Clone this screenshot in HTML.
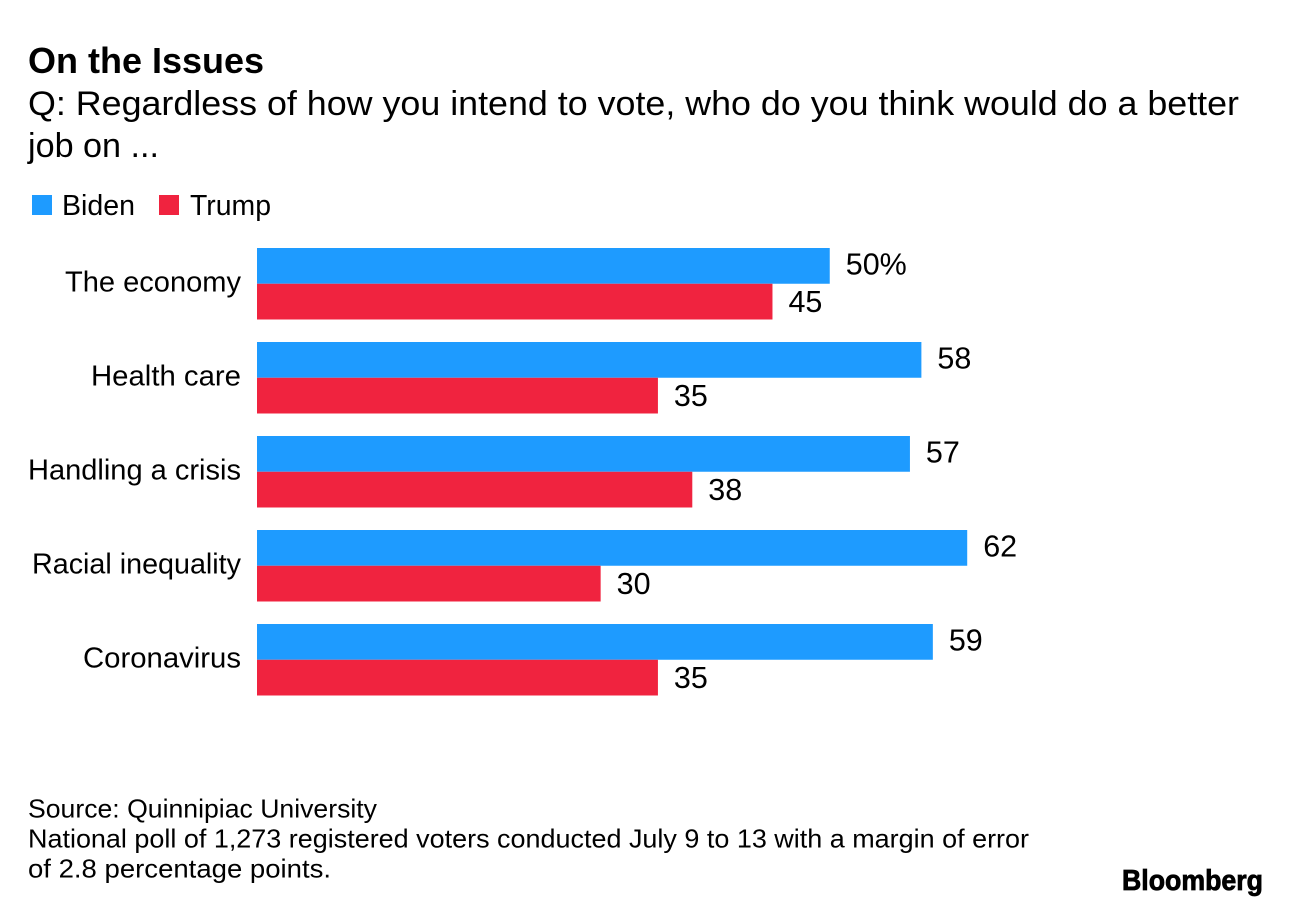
<!DOCTYPE html>
<html lang="en">
<head>
<meta charset="utf-8">
<title>On the Issues</title>
<style>
html,body{margin:0;padding:0;background:#fff;}
svg{display:block;}
text{font-family:"Liberation Sans",sans-serif;fill:#000;}
</style>
</head>
<body>
<svg id="chart" width="1290" height="908" viewBox="0 0 1290 908" xmlns="http://www.w3.org/2000/svg">
  <rect x="0" y="0" width="1290" height="908" fill="#fff"/>
  <text x="28" y="73" font-size="36" font-weight="700" textLength="236" lengthAdjust="spacingAndGlyphs">On the Issues</text>
  <text x="28" y="115" font-size="34" textLength="1211" lengthAdjust="spacingAndGlyphs">Q: Regardless of how you intend to vote, who do you think would do a better</text>
  <text x="28" y="157" font-size="34" textLength="131" lengthAdjust="spacingAndGlyphs">job on ...</text>

  <rect x="32" y="195" width="20" height="20" fill="#1e9bff"/>
  <text x="62" y="215" font-size="29" textLength="73" lengthAdjust="spacingAndGlyphs">Biden</text>
  <rect x="159" y="195" width="20" height="20" fill="#f0233f"/>
  <text x="190" y="215" font-size="29" textLength="81" lengthAdjust="spacingAndGlyphs">Trump</text>

  <g id="plot"></g>

  <text x="28" y="817.5" font-size="26" textLength="349" lengthAdjust="spacingAndGlyphs">Source: Quinnipiac University</text>
  <text x="28" y="847.5" font-size="26" textLength="1001" lengthAdjust="spacingAndGlyphs">National poll of 1,273 registered voters conducted July 9 to 13 with a margin of error</text>
  <text x="28" y="877.5" font-size="26" textLength="303" lengthAdjust="spacingAndGlyphs">of 2.8 percentage points.</text>
  <text x="1122" y="890" font-size="29" font-weight="700" stroke="#000" stroke-width="0.8" textLength="141" lengthAdjust="spacingAndGlyphs">Bloomberg</text>
</svg>
<script>
const categories = ["The economy", "Health care", "Handling a crisis", "Racial inequality", "Coronavirus"];
const bidenValues = [50, 58, 57, 62, 59];
const trumpValues = [45, 35, 38, 30, 35];
const categoryLabelWidths = [176, 150, 213, 209, 158];

const svgNS = "http://www.w3.org/2000/svg";
const plot = document.getElementById("plot");
const xZero = 257;
const unitWidth = 11.455;
const firstRowTop = 248;
const rowStep = 94;
const barHeight = 35.75;

function xScale(value) {
  return xZero + value * unitWidth;
}
function rowTop(index) {
  return firstRowTop + index * rowStep;
}
function addBar(name, index, offset, value, color) {
  const bar = document.createElementNS(svgNS, "rect");
  
  
  bar.setAttribute("x", xZero);
  bar.setAttribute("y", rowTop(index) + offset);
  bar.setAttribute("width", xScale(value) - xZero);
  bar.setAttribute("height", barHeight);
  bar.setAttribute("fill", color);
  plot.appendChild(bar);
}
function addValueLabel(name, index, offset, value, suffix) {
  const label = document.createElementNS(svgNS, "text");
  
  
  label.setAttribute("x", xScale(value) + 16);
  label.setAttribute("y", rowTop(index) + offset + 26.5);
  label.setAttribute("font-size", "30.5");
  label.textContent = value + suffix;
  plot.appendChild(label);
}
categories.forEach(function (category, i) {
  const label = document.createElementNS(svgNS, "text");
  
  
  label.setAttribute("x", 241 - categoryLabelWidths[i]);
  label.setAttribute("y", rowTop(i) + 43.5);
  label.setAttribute("font-size", "29");
  label.setAttribute("textLength", categoryLabelWidths[i]);
  label.setAttribute("lengthAdjust", "spacingAndGlyphs");
  label.textContent = category;
  plot.appendChild(label);

  addBar("bar-biden", i, 0, bidenValues[i], "#1e9bff");
  addBar("bar-trump", i, barHeight, trumpValues[i], "#f0233f");
  addValueLabel("value-label-biden", i, 0, bidenValues[i], i === 0 ? "%" : "");
  addValueLabel("value-label-trump", i, barHeight + 1.5, trumpValues[i], "");
});
</script>
</body>
</html>
